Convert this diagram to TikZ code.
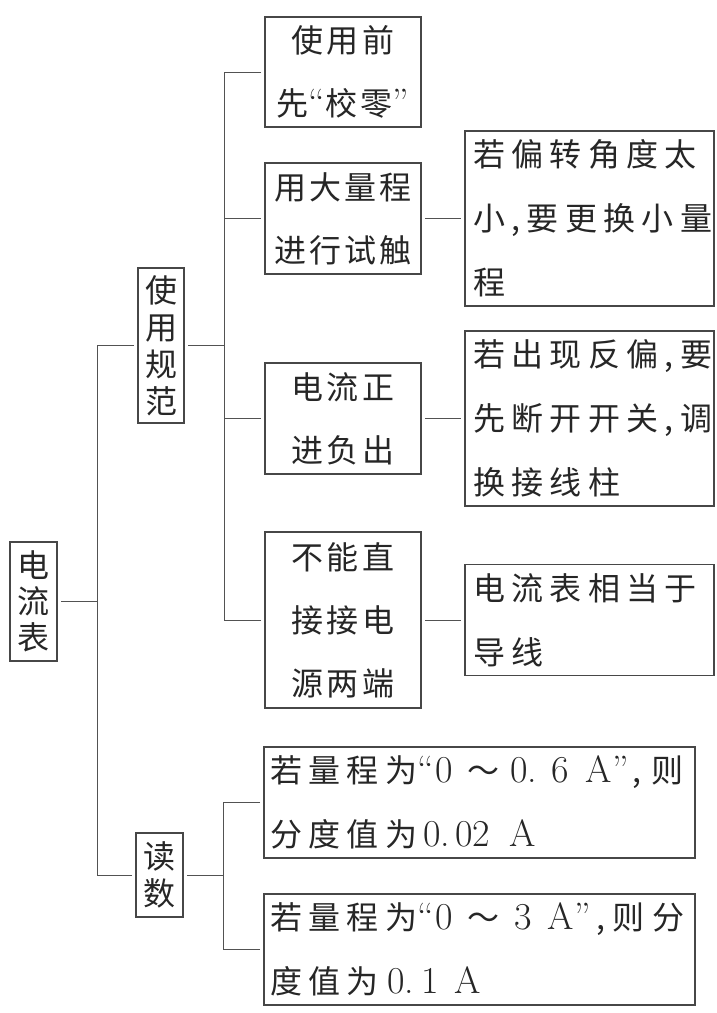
\documentclass[tikz,border=0pt]{standalone}
\usepackage{fontspec}
\newfontfamily\cjkN[LetterSpace=10]{Noto Sans CJK SC}
\newfontfamily\cjkW[LetterSpace=20]{Noto Sans CJK SC}
\newfontfamily\cjkV{Noto Sans CJK SC}
\newcommand\dig[1]{{\fontsize{38}{64}\selectfont\rmfamily #1}}
\newcommand\pl[2]{\makebox[0pt][l]{\hspace*{#1pt}#2}}
\definecolor{boxc}{gray}{0.28}
\definecolor{linec}{gray}{0.32}
\definecolor{txt}{gray}{0.15}
\begin{document}
\begin{tikzpicture}[x=1pt,y=-1pt,
  box/.style={draw=boxc, line width=1.1pt, inner sep=0pt, outer sep=4pt, text=txt},
  narrow/.style={box, minimum width=156pt, align=center, font=\cjkN\fontsize{32}{63}\selectfont},
  wide/.style={box, text width=233pt, inner xsep=8pt, align=left, font=\cjkW\fontsize{32}{64}\selectfont},
  bottom/.style={box, text width=419pt, inner xsep=6pt, align=left, font=\cjkW\fontsize{32}{64}\selectfont},
  vbox/.style={box, minimum width=47pt, align=center, font=\cjkV\fontsize{32}{36}\selectfont},
  conn/.style={draw=linec, line width=1pt}]
\fill[white] (0,0) rectangle (716,1013);
\useasboundingbox (0,0) rectangle (716,1013);

% level 1
\node[vbox, minimum height=119pt] (root) at (33.5,601.5) {电\\流\\表};
% level 2
\node[vbox, minimum width=46pt, minimum height=155pt, font=\cjkV\fontsize{32}{37}\selectfont] (sy) at (161,345.5) {使\\用\\规\\范};
\node[vbox, minimum height=84pt, font=\cjkV\fontsize{32}{37}\selectfont] (ds) at (159.5,875) {读\\数};
% level 3
\node[narrow, minimum height=110pt] (b1) at (343,72) {使用前\\先\dig{“}校零\dig{”}};
\node[narrow, minimum height=111pt] (b2) at (343,218.5) {用大量程\\进行试触};
\node[narrow, minimum height=111pt] (b3) at (343,418.5) {电流正\\进负出};
\node[narrow, minimum height=176pt] (b4) at (343,620) {不能直\\接接电\\源两端};
\node[bottom, minimum height=111pt] (d1) at (479.5,802.5)
  {\pl{0}{若量程为}\pl{147}{\dig{“}}\pl{165.5}{\dig{0}}\pl{197}{～}\pl{240.5}{\dig{0.}}\pl{281.5}{\dig{6}}\pl{316}{\dig{A}}\pl{342}{\dig{”}}\pl{362}{,}\pl{382}{则}\\
   \pl{0}{分度值为}\pl{153.5}{\dig{0.}}\pl{185.5}{\dig{02}}\pl{240}{\dig{A}}};
\node[bottom, minimum height=111pt] (d2) at (479.5,949.5)
  {\pl{0}{若量程为}\pl{147}{\dig{“}}\pl{165.5}{\dig{0}}\pl{197}{～}\pl{244.5}{\dig{3}}\pl{278}{\dig{A}}\pl{304}{\dig{”}}\pl{326}{,}\pl{343}{则}\pl{382}{分}\\
   \pl{0}{度值为}\pl{117.5}{\dig{0.}}\pl{152}{\dig{1}}\pl{185}{\dig{A}}};
% level 4
\node[wide, minimum height=175pt] (r1) at (589.5,218.5) {若偏转角度太\\小,要更换小量\\程};
\node[wide, minimum height=175pt] (r2) at (589.5,418.5) {若出现反偏,要\\先断开开关,调\\换接线柱};
\node[wide, minimum height=111pt] (r3) at (589.5,620) {电流表相当于\\导线};

% connectors
\coordinate (j0) at (97,601.5);
\coordinate (j1) at (224,345.5);
\coordinate (j2) at (223,875);
\draw[conn] (root) -- (j0);
\draw[conn] (sy) -| (j0);
\draw[conn] (ds) -| (j0);
\draw[conn] (sy) -- (j1);
\draw[conn] (b1) -| (j1);
\draw[conn] (b2) -| (j1);
\draw[conn] (b3) -| (j1);
\draw[conn] (b4) -| (j1);
\draw[conn] (ds) -- (j2);
\draw[conn] (d1) -| (j2);
\draw[conn] (d2) -| (j2);
\draw[conn] (b2) -- (r1);
\draw[conn] (b3) -- (r2);
\draw[conn] (b4) -- (r3);
\end{tikzpicture}
\end{document}
